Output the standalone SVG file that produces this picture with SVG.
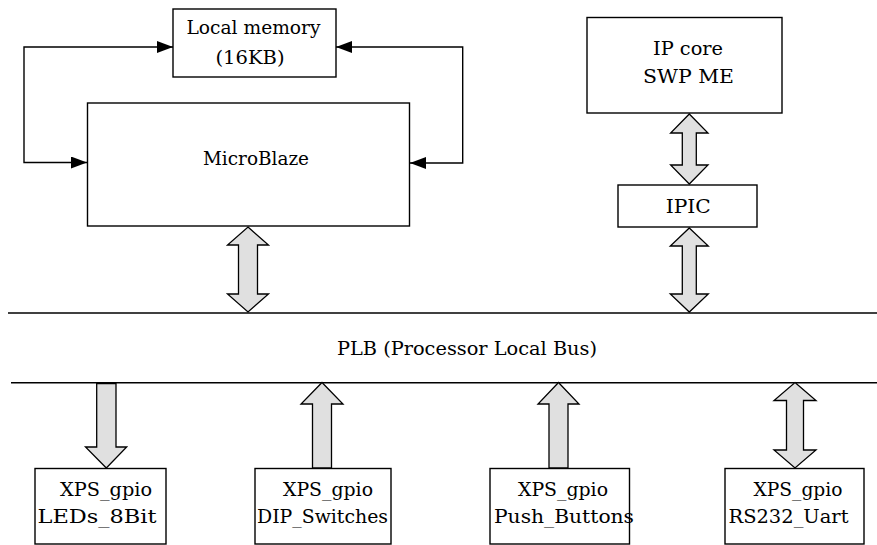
<svg xmlns="http://www.w3.org/2000/svg" width="877" height="545" viewBox="0 0 877 545">
<style>
.box{fill:#fff;stroke:#000;stroke-width:1.4}
.t{font-family:"DejaVu Serif","Liberation Serif","Noto Serif",serif;font-size:18px;fill:#000;text-anchor:middle}
.wire{fill:none;stroke:#000;stroke-width:1.4}
.fat{fill:#e0e0e0;stroke:#000;stroke-width:1.3;stroke-linejoin:miter}
.bus{stroke:#000;stroke-width:1.6}
</style>
<defs>
<marker id="ah" viewBox="0 0 16 12" refX="16" refY="6" markerWidth="16" markerHeight="12" markerUnits="userSpaceOnUse" orient="auto-start-reverse">
<path d="M0,0 L16,6 L0,12 Z" fill="#000"/>
</marker>
</defs>
<rect width="877" height="545" fill="#fff"/>

<g id="bus">
<line class="bus" x1="8" y1="313" x2="877" y2="313"/>
<line class="bus" x1="11" y1="382.7" x2="877" y2="382.7"/>
<text class="t" x="467" y="355" textLength="260" lengthAdjust="spacingAndGlyphs">PLB (Processor Local Bus)</text>
</g>

<g id="local-memory">
<rect class="box" x="173" y="9" width="163" height="68"/>
<text class="t" x="253.5" y="34" textLength="134" lengthAdjust="spacingAndGlyphs">Local memory</text>
<text class="t" x="250" y="64" textLength="69" lengthAdjust="spacingAndGlyphs">(16KB)</text>
</g>

<g id="microblaze">
<rect class="box" x="87.5" y="103" width="322" height="123"/>
<text class="t" x="256" y="165" textLength="106" lengthAdjust="spacingAndGlyphs">MicroBlaze</text>
</g>

<g id="ip-core">
<rect class="box" x="587" y="17.5" width="195" height="95.5"/>
<text class="t" x="688" y="55" textLength="70" lengthAdjust="spacingAndGlyphs">IP core</text>
<text class="t" x="688.5" y="83" textLength="91" lengthAdjust="spacingAndGlyphs">SWP ME</text>
</g>

<g id="ipic">
<rect class="box" x="618" y="185" width="139" height="42"/>
<text class="t" x="688.3" y="213" textLength="45" lengthAdjust="spacingAndGlyphs">IPIC</text>
</g>

<g id="leds">
<rect class="box" x="35" y="468.5" width="131" height="75.5"/>
<text class="t" x="106" y="496" textLength="92" lengthAdjust="spacingAndGlyphs">XPS_gpio</text>
<text class="t" x="97" y="523" textLength="119" lengthAdjust="spacingAndGlyphs">LEDs_8Bit</text>
</g>

<g id="dip">
<rect class="box" x="255" y="468.5" width="136" height="75.5"/>
<text class="t" x="328" y="496" textLength="90" lengthAdjust="spacingAndGlyphs">XPS_gpio</text>
<text class="t" x="322.5" y="523" textLength="131" lengthAdjust="spacingAndGlyphs">DIP_Switches</text>
</g>

<g id="push">
<rect class="box" x="490" y="468.5" width="139.5" height="75.5"/>
<text class="t" x="563" y="496" textLength="90" lengthAdjust="spacingAndGlyphs">XPS_gpio</text>
<text class="t" x="564" y="523" textLength="140" lengthAdjust="spacingAndGlyphs">Push_Buttons</text>
</g>

<g id="rs232">
<rect class="box" x="725" y="468.5" width="139" height="75.5"/>
<text class="t" x="798" y="496" textLength="89" lengthAdjust="spacingAndGlyphs">XPS_gpio</text>
<text class="t" x="788.5" y="523" textLength="120" lengthAdjust="spacingAndGlyphs">RS232_Uart</text>
</g>

<g id="connectors">
<polyline class="wire" points="87,162.5 24,162.5 24,47 173,47" marker-start="url(#ah)" marker-end="url(#ah)"/>
<polyline class="wire" points="410,163 462.7,163 462.7,47 336,47" marker-start="url(#ah)" marker-end="url(#ah)"/>

<!-- MicroBlaze <-> bus -->
<path class="fat" d="M248,227 L268.5,245 L257.5,245 L257.5,294 L268.5,294 L248,312 L227.5,294 L238.5,294 L238.5,245 L227.5,245 Z"/>
<!-- IP core <-> IPIC -->
<path class="fat" d="M689.3,114 L708,133 L696.3,133 L696.3,165 L708,165 L689.3,184 L670.6,165 L682.3,165 L682.3,133 L670.6,133 Z"/>
<!-- IPIC <-> bus -->
<path class="fat" d="M689.3,228 L708.3,246 L696.3,246 L696.3,294 L708.3,294 L689.3,312 L670.3,294 L682.3,294 L682.3,246 L670.3,246 Z"/>
<!-- bus -> LEDs -->
<path class="fat" d="M96.7,383.5 L116,383.5 L116,447 L126.7,447 L106.3,468 L85.5,447 L96.7,447 Z"/>
<!-- DIP -> bus -->
<path class="fat" d="M322,382.5 L343,404 L331.5,404 L331.5,468 L312.5,468 L312.5,404 L301,404 Z"/>
<!-- Push -> bus -->
<path class="fat" d="M558.5,382.5 L579,404 L568,404 L568,468 L549,468 L549,404 L538,404 Z"/>
<!-- RS232 <-> bus -->
<path class="fat" d="M795,382.5 L816,400.5 L803.5,400.5 L803.5,450 L816,450 L795,468 L774,450 L786.5,450 L786.5,400.5 L774,400.5 Z"/>
</g>
</svg>
